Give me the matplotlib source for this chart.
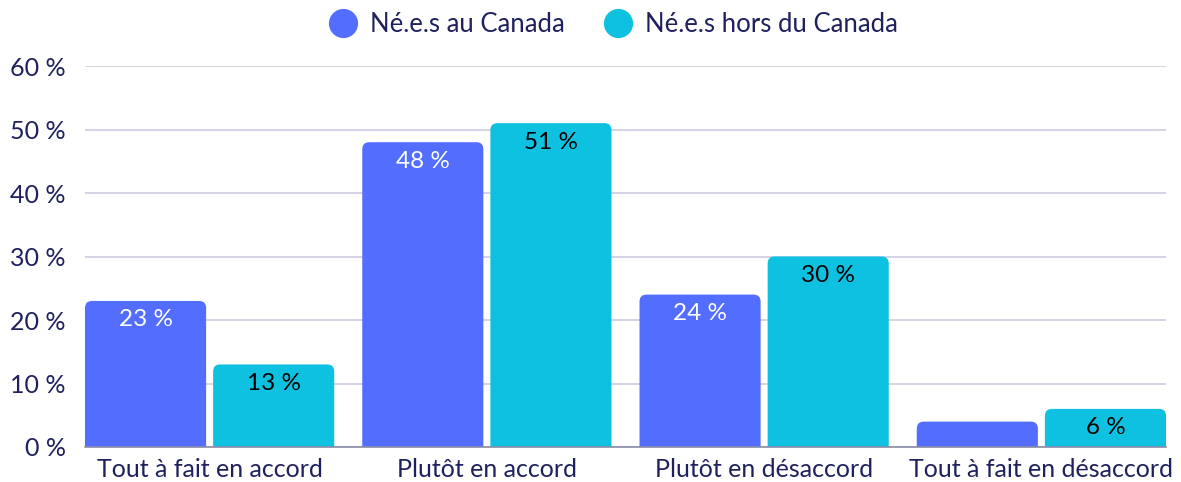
import matplotlib
matplotlib.use("Agg")
import matplotlib.pyplot as plt
from matplotlib.patches import FancyBboxPatch
from matplotlib.lines import Line2D
import numpy as np

categories = ["Tout à fait en accord", "Plutôt en accord", "Plutôt en désaccord", "Tout à fait en désaccord"]
series_names = ["Né.e.s au Canada", "Né.e.s hors du Canada"]
canada = [23, 48, 24, 4]
hors = [13, 51, 30, 6]
show_label_canada = [True, True, True, False]
show_label_hors = [True, True, True, True]
yticks = [0, 10, 20, 30, 40, 50, 60]

c_blue = "#536EFE"
c_cyan = "#0EC1E0"
navy = "#1E215E"

plt.rcParams['font.family'] = ['Lato', 'DejaVu Sans']

W, H = 1181, 482
fig = plt.figure(figsize=(W / 100, H / 100), dpi=100)
ax = fig.add_axes([85 / W, (H - 447) / H, (1166 - 85) / W, (447 - 66) / H])

x = np.arange(len(categories))
bw = 121 / 277
gap = 7 / 277
off = (bw + gap) / 2

bars1 = ax.bar(x - off, canada, width=bw, color=c_blue, zorder=3)
bars2 = ax.bar(x + off, hors, width=bw, color=c_cyan, zorder=3)

ax.set_ylim(0, 60)
ax.set_xlim(x[0] - off - bw / 2, x[-1] + off + bw / 2)

# rounded tops
fig.canvas.draw()
px_per_x = ax.transData.transform((1, 0))[0] - ax.transData.transform((0, 0))[0]
px_per_y = ax.transData.transform((0, 1))[1] - ax.transData.transform((0, 0))[1]
r_px = 7
r_x = r_px / px_per_x
aspect = px_per_x / px_per_y
for bars in (bars1, bars2):
    for p in bars:
        x0, w, h = p.get_x(), p.get_width(), p.get_height()
        p.set_visible(False)
        extra = 2 * r_px / px_per_y
        fb = FancyBboxPatch((x0, -extra), w, h + extra,
                            boxstyle=f"round,pad=0,rounding_size={r_x}",
                            mutation_aspect=aspect, facecolor=p.get_facecolor(),
                            edgecolor="none", zorder=3, clip_on=True)
        ax.add_patch(fb)
        fb.set_clip_path(ax.patch)

# labels
lab_off = 19 / px_per_y
for xi, v, s in zip(x - off, canada, show_label_canada):
    if s:
        ax.text(xi, v - lab_off, f"{v} %", ha="center", va="center", color="white", fontsize=17.5, zorder=4)
for xi, v, s in zip(x + off, hors, show_label_hors):
    if s:
        ax.text(xi, v - lab_off, f"{v} %", ha="center", va="center", color="black", fontsize=17.5, zorder=4)

ax.set_yticks(yticks)
ax.set_yticklabels([f"{t} %" for t in yticks])
ax.set_xticks(x)
ax.set_xticklabels(categories)
ax.tick_params(axis="both", length=0, labelsize=18, colors=navy)
ax.tick_params(axis="y", pad=14)
ax.tick_params(axis="x", pad=8)
ax.grid(axis="y", color="#CBCDE2", linewidth=1.2, zorder=0)
for s in ["top", "right", "left"]:
    ax.spines[s].set_visible(False)
ax.spines["bottom"].set_color("#8A8CA8")
ax.spines["bottom"].set_linewidth(1.2)
ax.spines["bottom"].set_zorder(5)

handles = [Line2D([], [], marker="o", linestyle="none", markersize=20, markerfacecolor=c, markeredgecolor=c)
           for c in (c_blue, c_cyan)]
leg = fig.legend(handles, series_names, loc="center", bbox_to_anchor=(614 / W, 1 - 24 / H), ncol=2,
                 frameon=False, fontsize=18.5, handletextpad=0.55, columnspacing=1.6, handlelength=1.0)
for t in leg.get_texts():
    t.set_color(navy)

fig.savefig("out.png", dpi=100)
